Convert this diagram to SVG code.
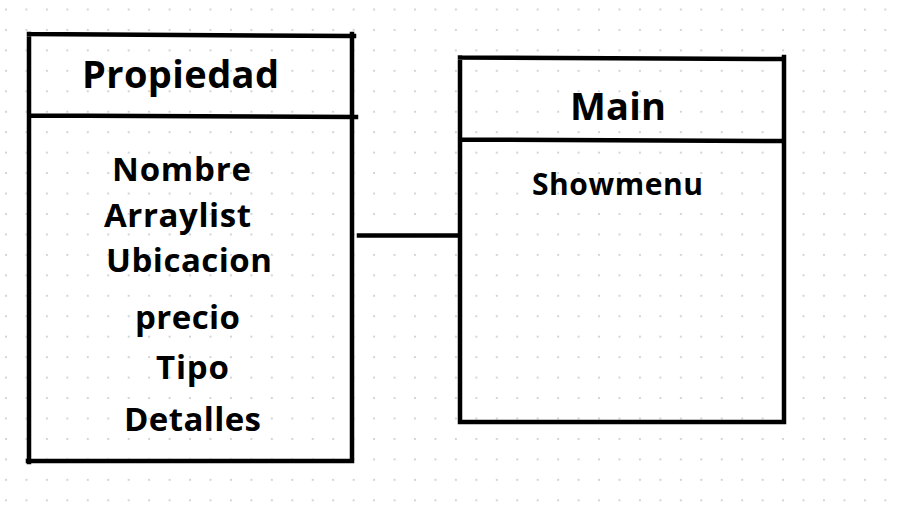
<svg xmlns="http://www.w3.org/2000/svg" width="898" height="516" viewBox="0 0 898 516">
<defs>
<pattern id="dots" x="5" y="8.5" width="20.45" height="20.45" patternUnits="userSpaceOnUse">
<rect x="0" y="0" width="2" height="2" fill="#d0d4dc"/>
</pattern>
</defs>
<style>
.ln{stroke:#000;stroke-width:4.5;fill:none;stroke-linecap:square}
.t{font-family:"Open Sans","Noto Sans",sans-serif;font-weight:bold;fill:#000}
.h{font-size:38px}
.a{font-size:33px}
.s{font-size:30px}
</style>
<rect width="898" height="516" fill="#fff"/>
<rect width="898" height="516" fill="url(#dots)"/>
<g id="propiedad">
<path class="ln" d="M29,34 L354,36 M352,34 L352,461 M28,461 L352,461 M29,34 L29,462 M31,115.5 L356,117"/>
<text class="t h" x="82" y="88" textLength="197">Propiedad</text>
<text class="t a" x="112" y="181" textLength="139">Nombre</text>
<text class="t a" x="104" y="227" textLength="147">Arraylist</text>
<text class="t a" x="106" y="272" textLength="166">Ubicacion</text>
<text class="t a" x="135" y="329" textLength="105">precio</text>
<text class="t a" x="156" y="379" textLength="73">Tipo</text>
<text class="t a" x="124" y="431" textLength="137">Detalles</text>
</g>
<g id="main">
<path class="ln" d="M460,57.5 L784,59 M784,57 L784,422 M460,422 L784,422 M460,57.5 L460,422 M462,139.5 L784,141"/>
<text class="t h" x="570" y="120" textLength="96">Main</text>
<text class="t s" x="532" y="195" textLength="171">Showmenu</text>
</g>
<g id="connectors">
<path class="ln" d="M359,235.5 L458,235.5"/>
</g>
</svg>
